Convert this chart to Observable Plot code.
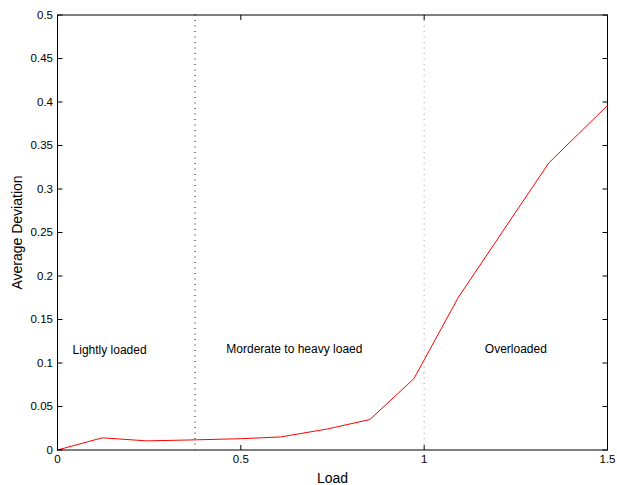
<!DOCTYPE html>
<html>
<head>
<meta charset="utf-8">
<script src="https://cdn.jsdelivr.net/npm/d3@7"></script>
<script src="https://cdn.jsdelivr.net/npm/@observablehq/plot@0.6"></script>
<style>
  html, body { margin: 0; padding: 0; background: #fff; }
  svg { display: block; }
</style>
</head>
<body>
<div id="chart"></div>
<script>
const loads = [0, 0.122, 0.243, 0.379, 0.5, 0.608, 0.734, 0.852, 0.972, 1.094, 1.34, 1.5];
const deviations = [0, 0.014, 0.0105, 0.0117, 0.013, 0.015, 0.024, 0.035, 0.082, 0.176, 0.330, 0.396];
const boundaries = [0.375, 1];
const boundaryColors = ["#333333", "#aaaaaa"];
const regionLabels = ["Lightly loaded", "Morderate to heavy loaed", "Overloaded"];
const regionX = [0.142, 0.646, 1.25];
const regionY = [0.115, 0.116, 0.116];
const xTicks = [0, 0.5, 1, 1.5];
const yTicks = [0, 0.05, 0.1, 0.15, 0.2, 0.25, 0.3, 0.35, 0.4, 0.45, 0.5];

const data = loads.map((x, i) => ({x, y: deviations[i]}));
const bounds = boundaries.map((x, i) => ({x, c: boundaryColors[i]}));
const labels = regionLabels.map((t, i) => ({t, x: regionX[i], y: regionY[i]}));

// inward tick symbols (5px)
const TL = 5;
const tickSym = (dx, dy) => ({draw(ctx) { ctx.moveTo(0, 0); ctx.lineTo(dx * TL, dy * TL); }});

const plot = Plot.plot({
  width: 617,
  height: 485,
  marginLeft: 57,
  marginRight: 10,
  marginTop: 14.5,
  marginBottom: 35.5,
  style: {fontFamily: "'Liberation Sans', Arial, sans-serif", fontSize: "11.5px", color: "#000", background: "#fff"},
  x: {domain: [0, 1.5]},
  y: {domain: [0, 0.5]},
  marks: [
    Plot.ruleX(bounds, {x: "x", stroke: "c", strokeWidth: 1.2, strokeDasharray: "1,4.5"}),
    Plot.line(data, {x: "x", y: "y", stroke: "#ff0000", strokeWidth: 1}),
    Plot.text(labels, {x: "x", y: "y", text: "t", fontSize: 12, fill: "#000"}),
    Plot.dot(yTicks, {y: d => d, frameAnchor: "left", symbol: tickSym(1, 0), stroke: "#000", strokeWidth: 1}),
    Plot.dot(yTicks, {y: d => d, frameAnchor: "right", symbol: tickSym(-1, 0), stroke: "#000", strokeWidth: 1}),
    Plot.dot(xTicks, {x: d => d, frameAnchor: "bottom", symbol: tickSym(0, -1), stroke: "#000", strokeWidth: 1}),
    Plot.dot(xTicks, {x: d => d, frameAnchor: "top", symbol: tickSym(0, 1), stroke: "#000", strokeWidth: 1}),
    Plot.frame({stroke: "#000", strokeWidth: 1}),
    Plot.axisX({ticks: xTicks, tickSize: 0, tickPadding: 5, tickFormat: d => String(d), label: "Load", labelAnchor: "center", labelArrow: "none", labelOffset: 33, fontSize: 11.5}),
    Plot.axisY({ticks: yTicks, tickSize: 0, tickPadding: 4.5, tickFormat: d => String(d), label: "Average Deviation", labelAnchor: "center", labelArrow: "none", labelOffset: 45, fontSize: 11.5})
  ]
});
plot.querySelectorAll("[aria-label$='axis label'] text, [aria-label$='axis label']").forEach(n => n.setAttribute("font-size", "14"));
document.getElementById("chart").appendChild(plot);
</script>
</body>
</html>
